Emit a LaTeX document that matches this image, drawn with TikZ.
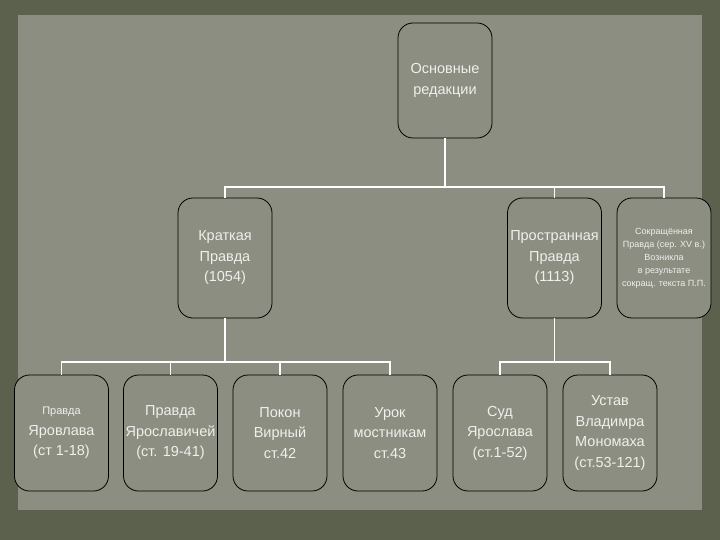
\documentclass[tikz,border=0pt]{standalone}
\usepackage{fontspec}
\setmainfont{Liberation Sans}
\definecolor{outer}{RGB}{92,97,78}
\definecolor{panel}{RGB}{139,142,129}
\definecolor{txt}{RGB}{240,240,236}
\tikzset{
  box/.style={draw=black, line width=0.8pt, rounded corners=15pt, fill=panel,
    minimum width=94pt, text=txt, align=center, inner sep=0pt,
    font=\fontsize{14.5}{20.5}\selectfont},
  topbox/.style={box, minimum height=115pt},
  midbox/.style={box, minimum height=120pt},
  lowbox/.style={box, minimum height=116pt},
  conn/.style={draw=white, line width=1.8pt}
}
\begin{document}
\begin{tikzpicture}[x=1pt,y=-1pt]
\useasboundingbox (0,0) rectangle (720,540);
\fill[outer] (0,0) rectangle (720,540);
\fill[panel] (18,15) rectangle (702,510);
\node[topbox] (top) at (445,80.5) {Основные\\редакции};
\node[midbox] (krat) at (225,258) {Краткая\\Правда\\(1054)};
\node[midbox] (prost) at (554.5,258) {Пространная\\Правда\\(1113)};
\node[midbox, font=\fontsize{9}{13}\selectfont] (sokr) at (664,258) {Сокращённая\\Правда (сер. XV в.)\\Возникла\\в результате\\сокращ. текста П.П.};
\node[lowbox] (b1) at (61.5,433) {{\fontsize{11}{20.5}\selectfont Правда}\\Яровлава\\(ст 1-18)};
\node[lowbox] (b2) at (170.5,433) {Правда\\Ярославичей\\(ст. 19-41)};
\node[lowbox] (b3) at (280,433) {Покон\\Вирный\\ст.42};
\node[lowbox] (b4) at (390,433) {Урок\\мостникам\\ст.43};
\node[lowbox] (b5) at (500,433) {Суд\\Ярослава\\(ст.1-52)};
\node[lowbox] (b6) at (610,433) {Устав\\Владимра\\Мономаха\\(ст.53-121)};
\coordinate (j1) at (445,187);
\coordinate (j2) at (225,362);
\coordinate (j3) at (554.5,362);
\draw[conn] (top.south) -- (top.south |- j1) -| (krat.north);
\draw[conn] (top.south |- j1) -| (prost.north);
\draw[conn] (top.south |- j1) -| (sokr.north);
\draw[conn] (krat.south) -- (j2) -| (b1.north);
\draw[conn] (j2) -| (b2.north);
\draw[conn] (j2) -| (b3.north);
\draw[conn] (j2) -| (b4.north);
\draw[conn] (prost.south) -- (j3) -| (b5.north);
\draw[conn] (j3) -| (b6.north);
\end{tikzpicture}
\end{document}
